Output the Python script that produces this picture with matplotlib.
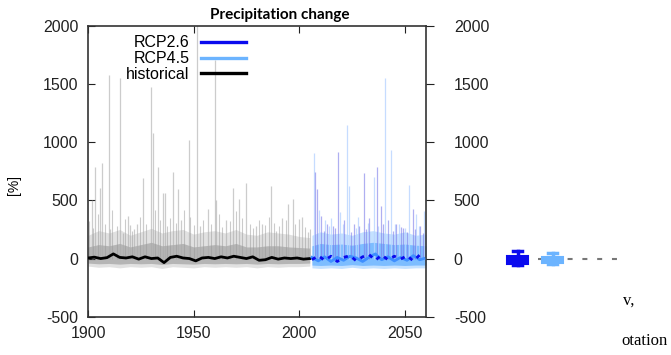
import matplotlib
matplotlib.use('Agg')
from matplotlib import pyplot as plt
import numpy as np

plt.rcParams['font.family'] = ['Liberation Sans', 'DejaVu Sans']
plt.rcParams['axes.unicode_minus'] = False

# historical ensemble: tall single-member spikes (year, % change)
hist_spike_years = [1901.7, 1903.3, 1905.7, 1906.4, 1910.0, 1910.5, 1915.0, 1916.6, 1919.0, 1920.0,
                    1922.0, 1923.0, 1926.0, 1929.7, 1930.8, 1932.9, 1935.5, 1936.3, 1940.0, 1942.6,
                    1944.0, 1947.6, 1951.7, 1953.0, 1956.8, 1959.9, 1960.7, 1965.4, 1968.5, 1971.7,
                    1974.8, 1979.6, 1982.6, 1986.6, 1989.0, 1992.0, 1994.5, 1996.9, 2000.0, 2001.5,
                    2004.0]
hist_spike_vals = [504, 791, 610, 820, 1577, 250, 1550, 220, 363, 290,
                   250, 300, 694, 1477, 1080, 791, 560, 566, 748, 594,
                   330, 1020, 2100, 280, 430, 1706, 500, 330, 608, 508,
                   651, 280, 300, 622, 240, 350, 465, 508, 337, 360,
                   230]

# smaller historical excursions above the dense spread
hist_small_years = [1900.5, 1902.5, 1904.5, 1908.0, 1911.5, 1913.5, 1917.5, 1921.0, 1924.5, 1927.5,
                    1931.5, 1934.0, 1937.5, 1939.0, 1941.5, 1945.5, 1948.5, 1950.0, 1954.5, 1958.0,
                    1962.0, 1963.5, 1967.0, 1970.0, 1973.0, 1976.5, 1978.0, 1981.0, 1984.0, 1985.5,
                    1988.0, 1990.5, 1993.5, 1998.0, 2002.5, 2005.0]
hist_small_vals = [320, 260, 380, 300, 420, 280, 340, 240, 360, 300,
                   420, 330, 280, 350, 310, 420, 360, 290, 330, 300,
                   380, 270, 320, 410, 350, 300, 260, 330, 290, 360,
                   310, 280, 330, 300, 270, 250]

# historical ensemble spread
band_years_hist = [1900, 1905, 1910, 1915, 1920, 1925, 1930, 1935, 1940, 1945, 1950, 1955,
                   1960, 1965, 1970, 1975, 1980, 1985, 1990, 1995, 2000, 2005]
band_hi_hist = [200, 240, 220, 250, 200, 230, 260, 220, 240, 250, 210, 230,
                240, 220, 250, 210, 200, 230, 220, 210, 190, 180]
band_mid_hist = [100, 120, 110, 130, 100, 120, 140, 110, 120, 130, 100, 110,
                 120, 110, 130, 100, 100, 110, 110, 100, 95, 90]
band_lo_hist = [-65, -75, -70, -80, -70, -75, -70, -85, -70, -75, -80, -70,
                -75, -70, -75, -70, -80, -70, -75, -70, -70, -65]

# historical ensemble mean
mean_years_hist = [1900, 1903, 1906, 1909, 1912, 1915, 1918, 1921, 1924, 1927, 1930, 1933,
                   1936, 1939, 1942, 1945, 1948, 1951, 1954, 1957, 1960, 1963, 1966, 1969,
                   1972, 1975, 1978, 1981, 1984, 1987, 1990, 1993, 1996, 1999, 2002, 2005]
mean_hist = [5, 12, 0, 8, 40, 10, 5, 15, -5, 15, 0, 5,
             -35, 10, 20, 5, 0, -20, 5, 10, 0, 15, 5, 20,
             10, 0, 15, -15, -10, 10, -5, 5, 0, 5, -5, 0]

# RCP2.6 spikes
rcp26_spike_years = [2007.4, 2008.6, 2010.5, 2013.0, 2016.0, 2018.5, 2021.0, 2026.0, 2030.7,
                     2033.0, 2036.6, 2038.5, 2042.0, 2046.0, 2049.0, 2053.9, 2057.0,
                     2011.5, 2017.0, 2024.5, 2028.5, 2031.5, 2039.5, 2044.5, 2048.0, 2051.0,
                     2055.0, 2058.5]
rcp26_spike_vals = [748, 594, 365, 300, 280, 920, 330, 300, 734,
                    350, 791, 450, 330, 300, 260, 422, 280,
                    240, 260, 230, 280, 250, 300, 240, 270, 230,
                    250, 220]

# RCP4.5 spikes
rcp45_spike_years = [2006.8, 2009.5, 2012.0, 2015.0, 2019.5, 2022.5, 2023.6, 2028.0, 2035.4,
                     2040.6, 2043.6, 2047.0, 2051.9, 2055.5, 2059.0,
                     2014.0, 2020.5, 2027.0, 2032.5, 2037.5, 2045.5, 2050.0, 2056.5]
rcp45_spike_vals = [906, 420, 330, 350, 400, 1148, 622, 360, 705,
                    1549, 934, 300, 634, 380, 408,
                    280, 300, 260, 310, 280, 300, 260, 280]

band_years_rcp = [2006, 2010, 2015, 2020, 2025, 2030, 2035, 2040, 2045, 2050, 2055, 2060]
band_hi_rcp = [200, 230, 210, 220, 200, 230, 240, 220, 210, 230, 200, 210]
band_mid_rcp = [110, 130, 120, 125, 115, 130, 140, 130, 120, 125, 115, 110]
band_lo_rcp = [-80, -85, -80, -85, -75, -85, -80, -85, -80, -85, -80, -80]

mean_years_rcp = [2006, 2009, 2012, 2015, 2018, 2021, 2024, 2027, 2030, 2033, 2036, 2039,
                  2042, 2045, 2048, 2051, 2054, 2057, 2059]
mean_rcp26 = [-10, 25, -15, 20, -25, 10, 25, -20, 15, 35, -15, 30, -10, 20, -5, 25, -20, 30, 5]
mean_rcp45 = [10, -20, 15, -25, 10, -15, 20, 5, -25, 10, 40, -10, 15, -20, 10, -15, 25, -10, 0]

# box plot statistics for the end-of-period panel
box_names = ['RCP2.6', 'RCP4.5']
box_med = [0, 0]
box_q1 = [-45, -42]
box_q3 = [18, 14]
box_lo = [-55, -50]
box_hi = [63, 51]

c26 = '#0a0aee'
c45 = '#6cb4ff'

fig = plt.figure(figsize=(6.71, 3.55), dpi=100)
ax = fig.add_axes([88 / 671, 1 - 316.7 / 355, 338 / 671, 290.7 / 355])

# historical
ax.fill_between(band_years_hist, band_lo_hist, band_hi_hist, color='#c4c4c4', alpha=0.5, lw=0)
ax.fill_between(band_years_hist, [v * 0.6 for v in band_lo_hist], band_mid_hist, color='#8a8a8a',
                alpha=0.5, lw=0)
ax.vlines(hist_small_years, 0, hist_small_vals, color='#999999', lw=0.8, alpha=0.5)
ax.vlines(hist_spike_years, 0, hist_spike_vals, color='#aaaaaa', lw=0.9, alpha=0.6)
ax.plot(mean_years_hist, mean_hist, color='black', lw=2.0, zorder=5)

# scenarios
ax.fill_between(band_years_rcp, band_lo_rcp, band_hi_rcp, color=c45, alpha=0.4, lw=0)
ax.fill_between(band_years_rcp, [v * 0.7 for v in band_lo_rcp], band_mid_rcp, color=c45,
                alpha=0.8, lw=0)
ax.vlines(rcp45_spike_years, 0, rcp45_spike_vals, color='#b8d4ff', lw=0.9, alpha=0.8)
ax.vlines(rcp26_spike_years, 0, rcp26_spike_vals, color='#7a7ae8', lw=0.9, alpha=0.6)
ax.plot(mean_years_rcp, mean_rcp45, color='#3f8fff', lw=2.0, zorder=5)
ax.plot(mean_years_rcp, mean_rcp26, color=c26, lw=2.0, ls=(0, (1.5, 2)), zorder=6)

ax.set_xlim(1900, 2060)
ax.set_ylim(-500, 2000)
ax.set_xticks([1900, 1950, 2000, 2050])
ax.set_yticks([-500, 0, 500, 1000, 1500, 2000])
ax.tick_params(axis='x', direction='in', top=True, length=5, pad=7, labelsize=11.5,
               colors='#222222')
ax.tick_params(axis='y', direction='in', length=5, pad=7, labelsize=11.5, colors='#222222')
for s in ax.spines.values():
    s.set_color('#333333')
    s.set_linewidth(1.2)

twin = ax.twinx()
twin.set_ylim(-500, 2000)
twin.set_yticks([-500, 0, 500, 1000, 1500, 2000])
twin.tick_params(axis='y', direction='out', length=6, pad=14, labelsize=11.5, colors='#222222')
for s in twin.spines.values():
    s.set_visible(False)

# legend
h1, = ax.plot([], [], color=c26, lw=2.4, label='RCP2.6')
h2, = ax.plot([], [], color=c45, lw=2.4, label='RCP4.5')
h3, = ax.plot([], [], color='black', lw=2.4, label='historical')
ax.legend(handles=[h1, h2, h3], loc='upper right', bbox_to_anchor=(0.49, 0.995),
          markerfirst=False, frameon=False, borderpad=0, handlelength=2.8,
          handletextpad=0.7, labelspacing=0.05, fontsize=11.5)

fig.text(280 / 671, 1 - 19 / 355, 'Precipitation change', ha='center', va='baseline',
         fontsize=11, fontweight='bold', family=['Lato', 'DejaVu Sans'])
fig.text(14 / 671, 1 - 185 / 355, '[%]', rotation=90, ha='center', va='center', fontsize=10)

# box panel
bx = fig.add_axes([500 / 671, 1 - 316.7 / 355, 140 / 671, 290.7 / 355])
bx.set_xlim(0.5, 4.5)
bx.set_ylim(-500, 2000)
bx.axis('off')
bx.hlines(0, 1.586, 3.87, colors='#777777', lw=1.5, linestyles=[(0, (2.4, 4.7))], zorder=1)
stats = []
for i in range(len(box_names)):
    stats.append({'label': box_names[i], 'med': box_med[i], 'q1': box_q1[i], 'q3': box_q3[i],
                  'whislo': box_lo[i], 'whishi': box_hi[i]})
for i, col in enumerate([c26, c45]):
    bx.bxp([stats[i]], positions=[i + 1], widths=0.6, showfliers=False, patch_artist=True,
           boxprops=dict(facecolor=col, edgecolor=col, lw=1.5),
           medianprops=dict(color=col, lw=2), whiskerprops=dict(color=col, lw=2.5),
           capprops=dict(color=col, lw=2.5), capwidths=0.25, zorder=3)

fig.text(623 / 671, 1 - 305 / 355, 'v,', family=['Liberation Serif'], fontsize=12,
         ha='left', va='baseline')
fig.text(621 / 671, 1 - 345 / 355, 'otation', family=['Liberation Serif'], fontsize=12,
         ha='left', va='baseline')

fig.savefig('out.png', dpi=100)
